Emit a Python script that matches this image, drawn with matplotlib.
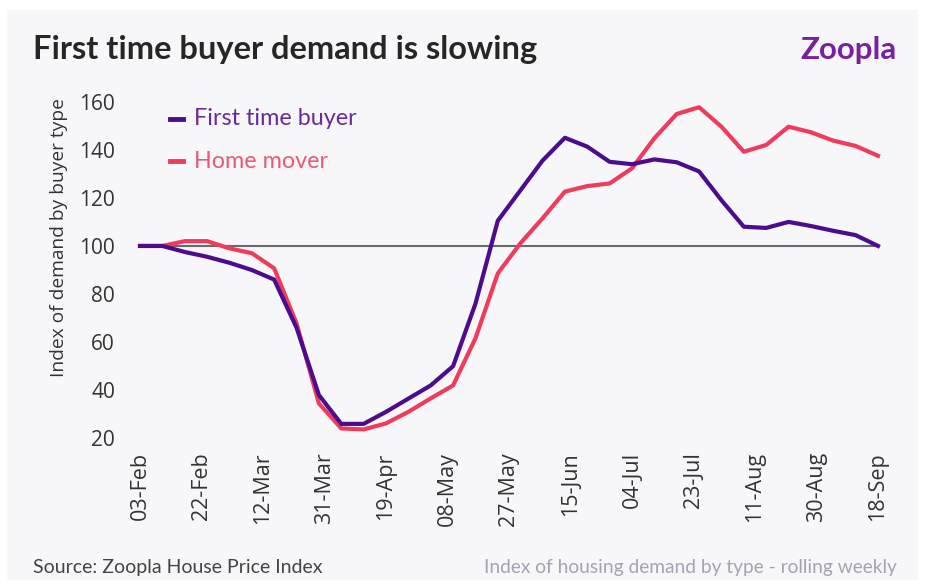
import numpy as np
import matplotlib.pyplot as plt
from matplotlib.patches import Rectangle

tick_labels = ['03-Feb', '22-Feb', '12-Mar', '31-Mar', '19-Apr', '08-May', '27-May',
               '15-Jun', '04-Jul', '23-Jul', '11-Aug', '30-Aug', '18-Sep']

# weekly index values
first_time_buyer = [100, 100, 97.5, 95.5, 93, 90, 86, 66, 38, 26, 26, 31, 36.5, 42, 50,
                    76, 110.5, 123, 135.5, 145, 141.3, 135, 134, 136, 134.8, 131,
                    119, 108, 107.5, 110, 108.3, 106.3, 104.5, 100]
home_mover = [100, 100, 102, 102, 99, 97, 90.7, 67.8, 34.5, 24.1, 23.7, 26.2, 31, 36.6,
              42, 61.6, 88.6, 101, 111.5, 122.6, 124.9, 126, 132.3, 144.8, 154.9,
              157.7, 149.6, 139.2, 142, 149.6, 147.3, 143.8, 141.6, 137.5]

ftb_color = '#4d0b8e'
hm_color = '#f03c5c'

W, H = 928, 585
fig = plt.figure(figsize=(W / 100, H / 100), dpi=100, facecolor='white')
fig.patches.append(Rectangle((7 / W, 1 - 580 / H), 911 / W, 570 / H,
                             transform=fig.transFigure, facecolor='#f7f7fa',
                             edgecolor='none', zorder=-10))

left, right, top, bottom = 140, 878, 101.7, 438.3
ax = fig.add_axes([left / W, 1 - bottom / H, (right - left) / W, (bottom - top) / H])
ax.set_facecolor('none')

x = np.arange(len(first_time_buyer))
ax.axhline(100, color='#6a6a6a', lw=1.5, zorder=1)
ax.plot(x, first_time_buyer, color=ftb_color, lw=3, clip_on=False, zorder=3)
ax.plot(x, home_mover, color=hm_color, lw=3, clip_on=False, zorder=2)

ax.set_xlim(0, len(x) - 1)
ax.set_ylim(20, 160)
ax.set_yticks(range(20, 161, 20))
ax.set_xticks(np.linspace(0, len(x) - 1, len(tick_labels)))
ax.set_xticklabels(tick_labels, rotation=90)
ax.tick_params(length=0, labelcolor='#333333')
ax.tick_params(axis='y', pad=18, labelsize=15)
ax.tick_params(axis='x', pad=10, labelsize=15.5)
for lab in ax.get_xticklabels() + ax.get_yticklabels():
    lab.set_family('Open Sans')
for s in ax.spines.values():
    s.set_visible(False)

fig.text(59 / W, 1 - 238 / H, 'Index of demand by buyer type', fontsize=13.8,
         color='#333333', family='Open Sans', rotation=90, ha='center', va='center')

# legend drawn as text with short line keys
for yy, label, lc in [(119, 'First time buyer', '#6b2a9a'), (161, 'Home mover', '#ea5a78')]:
    col = ftb_color if label.startswith('First') else hm_color
    fig.add_artist(plt.Line2D([170 / W, 183 / W], [1 - yy / H, 1 - yy / H],
                              color=col, lw=3.5, transform=fig.transFigure))
    fig.text(194 / W, 1 - yy / H, label, fontsize=16.8, color=lc, family='Lato',
             va='center', ha='left')

fig.text(33 / W, 1 - 50 / H, 'First time buyer demand is slowing', fontsize=23.5,
         fontweight='bold', color='#262626', family='Lato', va='center', ha='left')
fig.text(897 / W, 1 - 50 / H, 'Zoopla', fontsize=22.5, fontweight='bold',
         color='#7b1fa2', family='Lato', va='center', ha='right')

fig.text(33 / W, 1 - 567 / H, 'Source: Zoopla House Price Index', fontsize=14,
         color='#444444', family='Lato', va='center', ha='left')
fig.text(897 / W, 1 - 567 / H, 'Index of housing demand by type - rolling weekly',
         fontsize=13.8, color='#a3a3b3', family='Lato', va='center', ha='right')

fig.savefig('out.png', dpi=100, facecolor=fig.get_facecolor())
